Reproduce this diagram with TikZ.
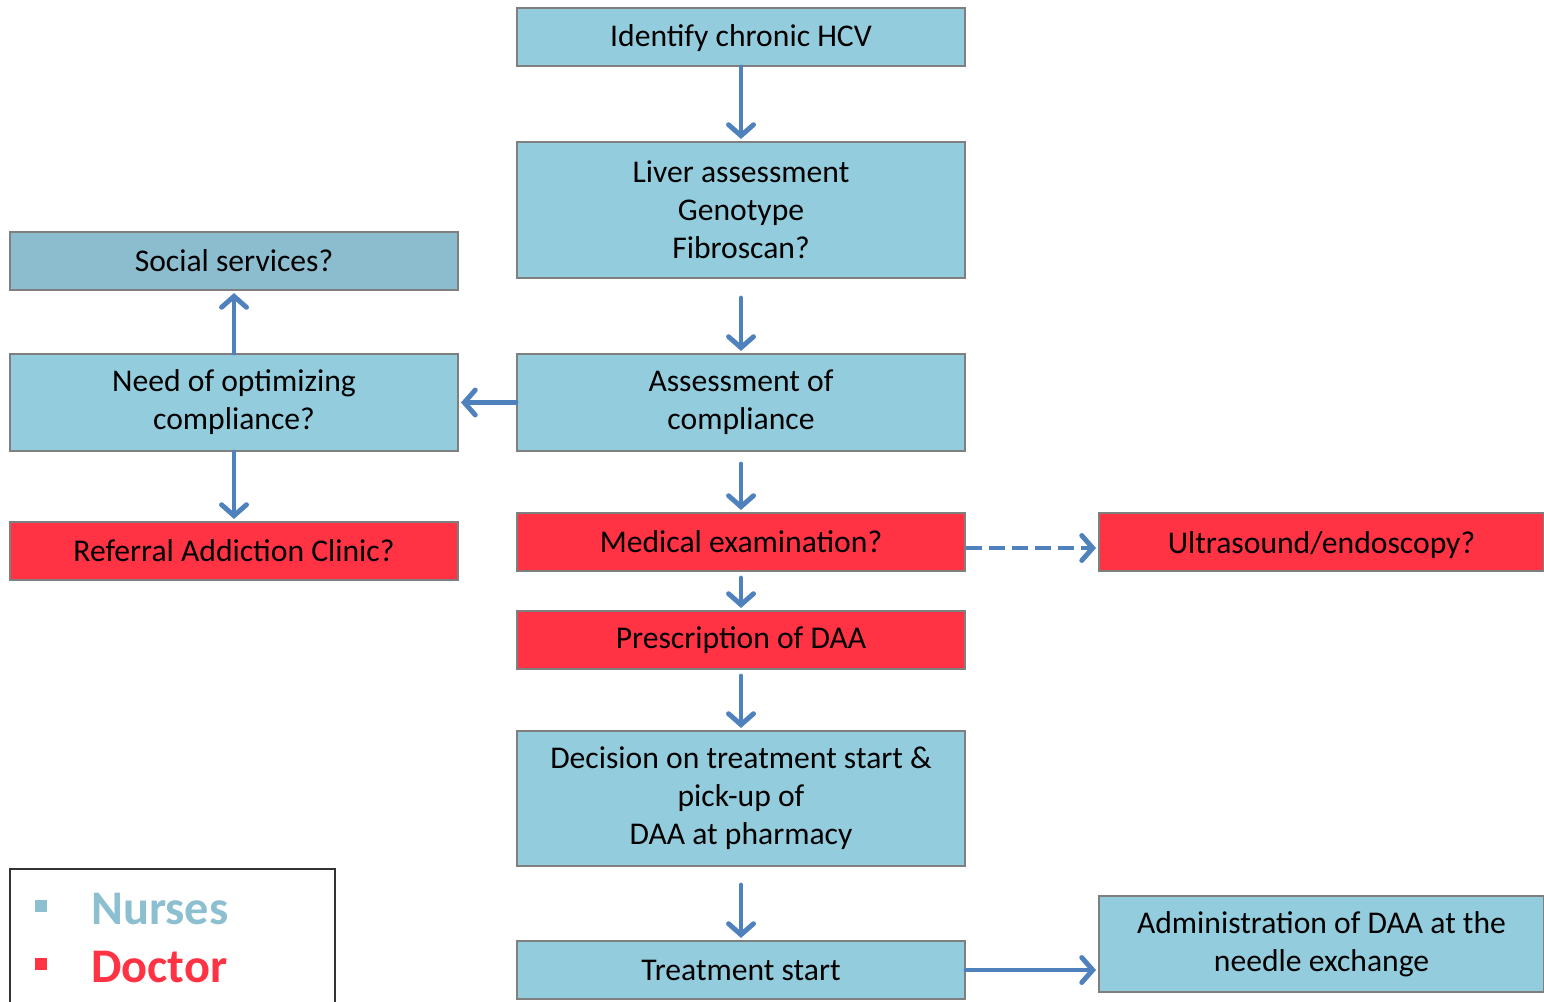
\documentclass[tikz,border=0pt]{standalone}
\usepackage{fontspec}
\setmainfont{Carlito}
\usetikzlibrary{arrows.meta, positioning, calc}
\definecolor{nursebg}{HTML}{93CDDD}
\definecolor{socialbg}{HTML}{8CBDCE}
\definecolor{docred}{HTML}{FF3343}
\definecolor{framegray}{HTML}{7F7F7F}
\definecolor{arblue}{HTML}{4F81BD}
\definecolor{nursetxt}{HTML}{8CC0D0}
\tikzset{
  nurse/.style={rectangle, draw=framegray, line width=1.2pt, fill=nursebg,
    align=center, minimum width=8.96cm, minimum height=1.16cm,
    font=\fontsize{18}{21.6}\selectfont},
  doctor/.style={nurse, fill=docred},
  ar/.style={-{Straight Barb[length=2.2mm, width=5mm, line cap=round]},
    line width=2.8pt, arblue, line cap=round},
  dar/.style={ar, dash pattern=on 0.32cm off 0.14cm, line cap=butt},
  bullet/.style={rectangle, inner sep=0pt, minimum size=0.24cm},
  legtext/.style={anchor=west, inner sep=0pt, font=\fontsize{27.5}{33}\selectfont\bfseries},
}

\begin{document}
\begin{tikzpicture}[x=0.02cm, y=-0.02cm]
  \useasboundingbox (0,0) rectangle (1544,1001);

  % --- Middle column ---
  \node[nurse, text height=1.1em, text depth=0em] (hcv) at (741,37) {Identify chronic HCV};
  \node[nurse, minimum height=2.72cm] (liver) at (741,210)
        {Liver assessment\\Genotype\\Fibroscan?};
  \node[nurse, minimum height=1.94cm] (compl) at (741,402.5)
        {Assessment of\\compliance};
  \node[doctor] (medical) at (741,542) {Medical examination?};
  \node[doctor] (prescr) at (741,640) {Prescription of DAA};
  \node[nurse, minimum height=2.7cm] (decision) at (741,798.5)
        {Decision on treatment start \&\\pick-up of\\DAA at pharmacy};
  \node[nurse] (treat) at (741,970) {Treatment start};

  % --- Left column ---
  \node[nurse, fill=socialbg] (social) at (234,261) {Social services?};
  \node[nurse, minimum height=1.94cm] (optim) at (234,402.5)
        {Need of optimizing\\compliance?};
  \node[doctor] (referral) at (234,551) {Referral Addiction Clinic?};

  % --- Right column ---
  \node[doctor, minimum width=8.9cm, text height=1.35em, text depth=0em] (ultra)
        at (1321.5,542) {Ultrasound/endoscopy?};
  \node[nurse, minimum width=8.9cm, minimum height=1.92cm] (admin) at (1321.5,944)
        {Administration of DAA at the\\needle exchange};

  % --- Arrows ---
  \draw[ar, shorten >=0.04cm] (hcv) -- (liver);
  \draw[ar, shorten <=0.38cm, shorten >=0.04cm] (liver) -- (compl);
  \draw[ar, shorten <=0.24cm, shorten >=0.04cm] (compl) -- (medical);
  \draw[ar, shorten <=0.12cm, shorten >=0.04cm] (medical) -- (prescr);
  \draw[ar, shorten <=0.12cm, shorten >=0.04cm] (prescr) -- (decision);
  \draw[ar, shorten <=0.36cm, shorten >=0.04cm] (decision) -- (treat);
  \draw[ar, shorten >=0.04cm] (compl) -- (optim);
  \draw[ar, shorten >=0.04cm] (optim) -- (social);
  \draw[ar, shorten >=0.04cm] (optim) -- (referral);
  \draw[dar, shorten >=0.04cm] ([yshift=-0.12cm]medical.east) -- ([yshift=-0.12cm]ultra.west);
  \draw[ar, shorten >=0.04cm] (treat.east) -- (treat.east -| admin.west);

  % --- Legend ---
  \node[draw=black!80, line width=0.8pt, minimum width=6.5cm, minimum height=3.04cm,
        inner sep=0pt] (legend) at (172.5,945) {};
  \node[bullet, fill=nursetxt] (bnurse) at (41,906) {};
  \node[bullet, fill=docred] (bdoctor) at (41,964) {};
  \node[legtext, text=nursetxt] (lnurse) at (91,909) {Nurses};
  \node[legtext, text=docred] (ldoctor) at (91,967) {Doctor};

\end{tikzpicture}
\end{document}
